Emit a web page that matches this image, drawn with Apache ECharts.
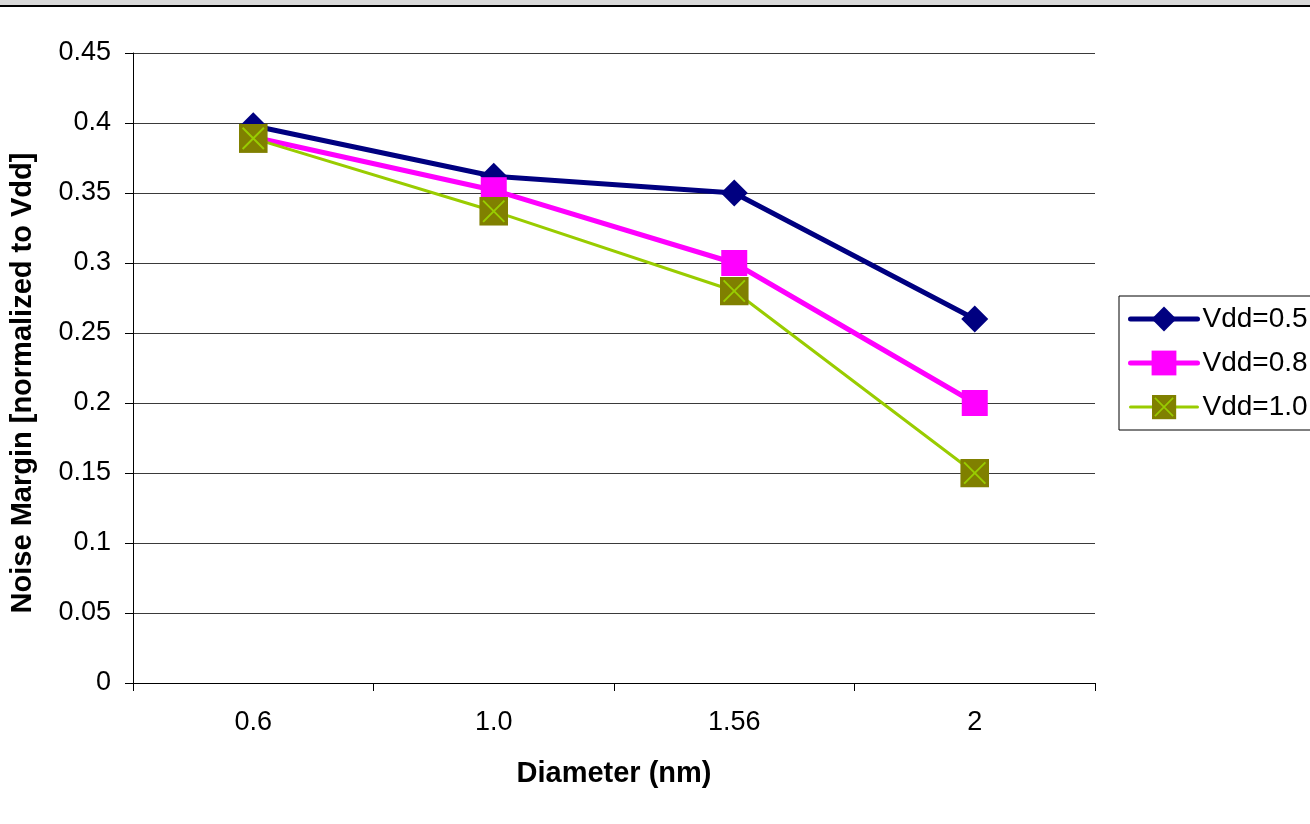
<!DOCTYPE html>
<html>
<head>
<meta charset="utf-8">
<script src="https://cdn.jsdelivr.net/npm/echarts@6/dist/echarts.min.js"></script>
<style>
html,body{margin:0;padding:0;background:#fff;}
#chart{width:1310px;height:824px;}
</style>
</head>
<body>
<div id="chart"></div>
<script>
const categories = ['0.6', '1.0', '1.56', '2'];
const vdd05 = [0.398, 0.362, 0.35, 0.26];
const vdd08 = [0.39, 0.352, 0.30, 0.20];
const vdd10 = [0.389, 0.337, 0.28, 0.15];
const seriesNames = ['Vdd=0.5', 'Vdd=0.8', 'Vdd=1.0'];
const yTicks = { min: 0, max: 0.45, interval: 0.05 };
const xName = 'Diameter (nm)';
const yName = 'Noise Margin [normalized to Vdd]';

const FONT = '"Liberation Sans", Arial, sans-serif';
const oliveSvg = "<svg xmlns='http://www.w3.org/2000/svg' width='60' height='60' viewBox='0 0 60 60'><rect width='60' height='60' fill='#808000'/><path d='M8 8L52 52M52 8L8 52' stroke='#99cc00' stroke-width='4'/></svg>";
const oliveSymbol = 'image://data:image/svg+xml;charset=utf-8,' + encodeURIComponent(oliveSvg);

const chart = echarts.init(document.getElementById('chart'), null, { renderer: 'canvas' });
chart.setOption({
  animation: false,
  backgroundColor: '#fff',
  textStyle: { fontFamily: FONT },
  graphic: [
    { type: 'rect', left: 0, top: 0, shape: { width: 1310, height: 5 }, style: { fill: '#d9d9d9' }, silent: true },
    { type: 'rect', left: 0, top: 5, shape: { width: 1310, height: 2 }, style: { fill: '#000' }, silent: true }
  ],
  grid: { left: 133, right: 215, top: 53, bottom: 141, containLabel: false },
  legend: {
    orient: 'vertical',
    left: 1119,
    top: 296,
    padding: [9, 10, 9, 9],
    itemWidth: 67,
    itemHeight: 31,
    itemGap: 16,
    borderColor: '#000',
    borderWidth: 1,
    backgroundColor: '#fff',
    lineStyle: { width: 'inherit', cap: 'round' },
    textStyle: { fontFamily: FONT, fontSize: 28, color: '#000', padding: [0, 0, 0, 0] },
    data: seriesNames
  },
  xAxis: {
    type: 'category',
    data: categories,
    boundaryGap: true,
    name: xName,
    nameLocation: 'middle',
    nameGap: 76,
    nameTextStyle: { fontFamily: FONT, fontSize: 29, fontWeight: 'bold', color: '#000' },
    axisLine: { lineStyle: { color: '#000', width: 1 } },
    axisTick: { show: true, interval: 0, alignWithLabel: false, length: 8, lineStyle: { color: '#000' } },
    axisLabel: { fontFamily: FONT, fontSize: 27, color: '#000', margin: 26, interval: 0 },
    splitLine: { show: false }
  },
  yAxis: {
    type: 'value',
    min: yTicks.min,
    max: yTicks.max,
    interval: yTicks.interval,
    name: yName,
    nameLocation: 'middle',
    nameRotate: 90,
    nameGap: 96,
    nameTextStyle: { fontFamily: FONT, fontSize: 29, fontWeight: 'bold', color: '#000', padding: [0, 30, 0, 0] },
    axisLine: { show: true, lineStyle: { color: '#000', width: 1 } },
    axisTick: { show: true, length: 8, lineStyle: { color: '#000' } },
    axisLabel: { fontFamily: FONT, fontSize: 27, color: '#000', margin: 22 },
    splitLine: { show: true, lineStyle: { color: '#3a3a3a', width: 1 } }
  },
  series: [
    {
      name: seriesNames[0], type: 'line', data: vdd05,
      symbol: 'diamond', symbolSize: 27,
      lineStyle: { color: '#000080', width: 5 },
      itemStyle: { color: '#000080' }
    },
    {
      name: seriesNames[1], type: 'line', data: vdd08,
      symbol: 'rect', symbolSize: 26,
      lineStyle: { color: '#ff00ff', width: 5 },
      itemStyle: { color: '#ff00ff' }
    },
    {
      name: seriesNames[2], type: 'line', data: vdd10,
      symbol: oliveSymbol, symbolSize: 29,
      lineStyle: { color: '#99cc00', width: 3 },
      itemStyle: { color: '#99cc00' }
    }
  ]
});
</script>
</body>
</html>
